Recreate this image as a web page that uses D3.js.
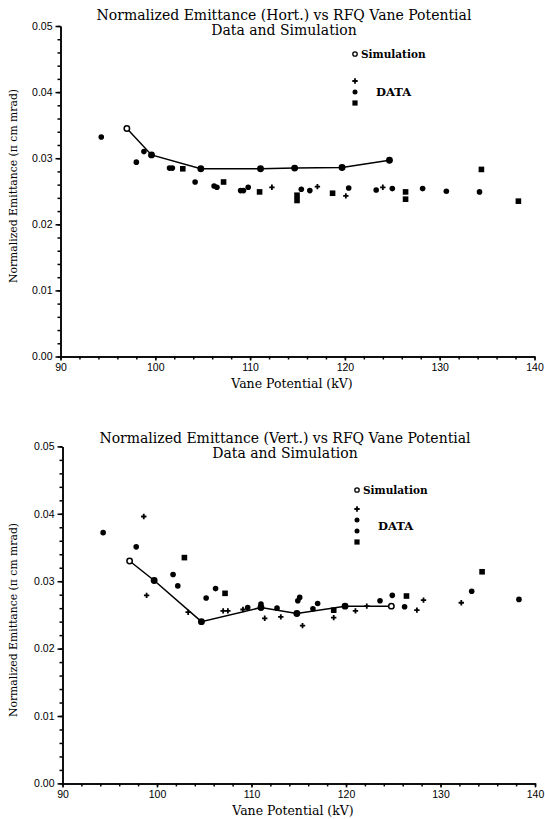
<!DOCTYPE html>
<html>
<head>
<meta charset="utf-8">
<script src="https://cdn.jsdelivr.net/npm/d3@7"></script>
<style>
  body { margin: 0; background: #fff; }
  svg { font-family: "DejaVu Serif", serif; }
  .axis path, .axis line { stroke: #000; stroke-width: 1.5; }
  .axis text { font-size: 10.5px; fill: #000; }
</style>
</head>
<body>
<div id="chart"></div>
<script>
const width = 545;
const height = 819;

// tick values and texts
const xTicks = [90, 100, 110, 120, 130, 140];
const yTicks = [0, 0.01, 0.02, 0.03, 0.04, 0.05];
const titles = ["Normalized Emittance (Hort.) vs RFQ Vane Potential",
                "Normalized Emittance (Vert.) vs RFQ Vane Potential"];
const subtitle = "Data and Simulation";
const xLabel = "Vane Potential (kV)";
const yLabel = "Normalized Emittance (\u03c0 cm mrad)";

// horizontal emittance, [kV, emittance]
const horizSim = [[97.0, 0.0345], [99.6, 0.0305], [104.8, 0.0284], [111.1, 0.0284],
                  [114.7, 0.0285], [119.7, 0.0286], [124.7, 0.0297]];
const horizDots = [[94.3, 0.0332], [98.0, 0.0294], [98.8, 0.0310], [101.5, 0.0285], [101.8, 0.0285],
                   [104.2, 0.0264], [106.2, 0.0258], [106.5, 0.0256], [109.0, 0.0251], [109.3, 0.0251],
                   [109.8, 0.0256], [115.4, 0.0253], [116.3, 0.0251], [120.4, 0.0255], [123.3, 0.0252],
                   [125.0, 0.0254], [128.2, 0.0254], [130.7, 0.0250], [134.2, 0.0249]];
const horizSquares = [[102.9, 0.0284], [107.2, 0.0264], [111.0, 0.0249], [114.95, 0.0244], [114.95, 0.0236],
                      [118.7, 0.0247], [126.4, 0.0249], [126.4, 0.0238], [134.4, 0.0283], [138.3, 0.0235]];
const horizCrosses = [[112.3, 0.0256], [117.1, 0.0257], [120.1, 0.0243], [124.0, 0.0256]];
const horizLegend = ["cross", "dot", "square"];

// vertical emittance, [kV, emittance]
const vertSim = [[97.1, 0.0330], [99.7, 0.0301], [104.7, 0.0240], [111.0, 0.0261],
                 [114.8, 0.0252], [119.9, 0.0263], [124.8, 0.0263]];
const vertDots = [[94.3, 0.0372], [97.8, 0.0351], [101.7, 0.0310], [102.2, 0.0293], [105.2, 0.0275],
                  [106.2, 0.0289], [109.6, 0.0261], [111.0, 0.0266], [112.7, 0.0260], [114.9, 0.0271],
                  [115.1, 0.0276], [116.5, 0.0259], [117.0, 0.0267], [123.6, 0.0271], [124.9, 0.0279],
                  [126.2, 0.0262], [133.3, 0.0285], [138.3, 0.0273]];
const vertSquares = [[102.9, 0.0335], [107.2, 0.0282], [118.7, 0.0257], [126.4, 0.0278], [134.4, 0.0314]];
const vertCrosses = [[98.6, 0.0396], [98.9, 0.0279], [103.3, 0.0254], [107.0, 0.0256], [107.5, 0.0256],
                     [109.1, 0.0258], [111.4, 0.0245], [113.1, 0.0247], [115.4, 0.0234], [118.7, 0.0246],
                     [121.0, 0.0256], [122.2, 0.0263], [127.5, 0.0257], [128.2, 0.0272], [132.2, 0.0268]];
const vertLegend = ["cross", "dot", "dot", "square"];

const svg = d3.select("#chart")
    .append("svg")
    .attr("width", width)
    .attr("height", height);

const cross = d3.symbol().type(d3.symbolCross).size(16);

function drawPanel(p) {
    const x = d3.scaleLinear().domain([90, 140]).range([p.left, p.right]);
    const y = d3.scaleLinear().domain([0, 0.05]).range([p.bottom, p.top]);
    const g = svg.append("g");

    // minor ticks first, then the labelled axis on top
    g.append("g").attr("class", "axis")
        .attr("transform", `translate(0,${p.bottom})`)
        .call(d3.axisBottom(x).tickValues(d3.range(90, 141, 2)).tickSize(3).tickSizeOuter(0).tickFormat(""));
    g.append("g").attr("class", "axis")
        .attr("transform", `translate(0,${p.bottom})`)
        .call(d3.axisBottom(x).tickValues(xTicks).tickSize(4).tickSizeOuter(0).tickPadding(3).tickFormat(d3.format("d")));

    g.append("g").attr("class", "axis")
        .attr("transform", `translate(${p.left},0)`)
        .call(d3.axisLeft(y).tickValues(d3.range(0, 0.0501, 0.002)).tickSize(3).tickSizeOuter(0).tickFormat(""));
    g.append("g").attr("class", "axis")
        .attr("transform", `translate(${p.left},0)`)
        .call(d3.axisLeft(y).tickValues(yTicks).tickSize(5).tickSizeOuter(0).tickPadding(3).tickFormat(d3.format(".2f")));

    // titles
    g.append("text")
        .attr("x", p.titleX).attr("y", p.titleY)
        .attr("text-anchor", "middle").attr("dominant-baseline", "central")
        .style("font-size", "14px")
        .text(p.title);
    g.append("text")
        .attr("x", p.titleX).attr("y", p.titleY + 15)
        .attr("text-anchor", "middle").attr("dominant-baseline", "central")
        .style("font-size", "14px")
        .text(subtitle);

    // axis labels
    g.append("text")
        .attr("x", p.xLabelX).attr("y", p.bottom + 27)
        .attr("text-anchor", "middle").attr("dominant-baseline", "central")
        .style("font-size", "12.5px")
        .text(xLabel);
    g.append("text")
        .attr("transform", `translate(13,${p.yLabelY}) rotate(-90)`)
        .attr("text-anchor", "middle").attr("dominant-baseline", "central")
        .style("font-size", "10.8px")
        .text(yLabel);

    // data
    g.selectAll(".dot").data(p.dots).join("circle")
        .attr("cx", d => x(d[0])).attr("cy", d => y(d[1]))
        .attr("r", 2.8).attr("fill", "#000");
    g.selectAll(".sq").data(p.squares).join("rect")
        .attr("x", d => x(d[0]) - 2.8).attr("y", d => y(d[1]) - 2.8)
        .attr("width", 5.6).attr("height", 5.6).attr("fill", "#000");
    g.selectAll(".cr").data(p.crosses).join("path")
        .attr("transform", d => `translate(${x(d[0])},${y(d[1])})`)
        .attr("d", cross).attr("fill", "#000");

    // simulation line; scanned vertices look filled except the open end points
    const line = d3.line().x(d => x(d[0])).y(d => y(d[1]));
    g.append("path").datum(p.sim)
        .attr("d", line).attr("fill", "none")
        .attr("stroke", "#000").attr("stroke-width", 1.5);
    g.selectAll(".sim").data(p.sim).join("circle")
        .attr("cx", d => x(d[0])).attr("cy", d => y(d[1]))
        .attr("r", 2.7)
        .attr("fill", (d, i) => p.openSim.includes(i) ? "#fff" : "#000")
        .attr("stroke", "#000").attr("stroke-width", 1.5);

    // legend
    g.append("circle")
        .attr("cx", p.legendX).attr("cy", p.legendY)
        .attr("r", 2.2).attr("fill", "#fff").attr("stroke", "#000").attr("stroke-width", 1.3);
    g.append("text")
        .attr("x", p.legendX + 6).attr("y", p.legendY)
        .attr("dominant-baseline", "central")
        .style("font-size", "10.5px").style("font-weight", "bold")
        .text("Simulation");
    p.legend.forEach((k, i) => {
        const ly = p.legendY + p.legendGap + i * 11;
        if (k === "dot") {
            g.append("circle").attr("cx", p.legendX).attr("cy", ly).attr("r", 2.5).attr("fill", "#000");
        } else if (k === "square") {
            g.append("rect").attr("x", p.legendX - 2.6).attr("y", ly - 2.6)
                .attr("width", 5.2).attr("height", 5.2).attr("fill", "#000");
        } else {
            g.append("path").attr("transform", `translate(${p.legendX},${ly})`)
                .attr("d", cross).attr("fill", "#000");
        }
    });
    g.append("text")
        .attr("x", p.legendX + 21).attr("y", p.legendY + p.legendGap + (p.legend.length - 1) * 5.5)
        .attr("dominant-baseline", "central")
        .style("font-size", "11.5px").style("font-weight", "bold")
        .text("DATA");
}

drawPanel({
    left: 60.5, right: 534.5, top: 26, bottom: 356.5,
    title: titles[0], titleX: 284, titleY: 14.5, xLabelX: 292, yLabelY: 186,
    legendX: 355, legendY: 54, legendGap: 27, legend: horizLegend, openSim: [0],
    sim: horizSim, dots: horizDots, squares: horizSquares, crosses: horizCrosses
});

drawPanel({
    left: 62.5, right: 535, top: 446.4, bottom: 783.4,
    title: titles[1], titleX: 285, titleY: 437.5, xLabelX: 293, yLabelY: 620,
    legendX: 357, legendY: 490, legendGap: 19, legend: vertLegend, openSim: [0, 6],
    sim: vertSim, dots: vertDots, squares: vertSquares, crosses: vertCrosses
});
</script>
</body>
</html>
